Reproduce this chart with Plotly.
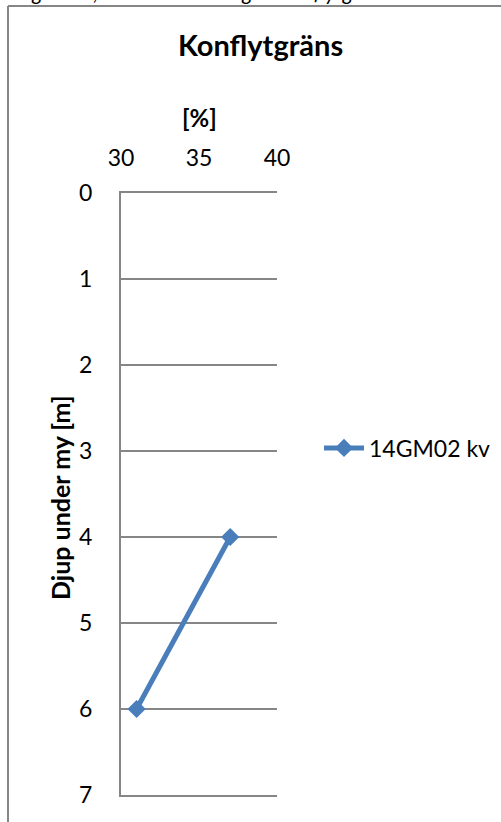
import plotly.graph_objects as go

percent = [37, 31]
depth = [4, 6]
series_name = "14GM02 kv"
x_ticks = [30, 35, 40]
y_ticks = [0, 1, 2, 3, 4, 5, 6, 7]

W, H = 501, 822
L, R, T, B = 121, 277, 193, 795  # plot area pixels

def px(x):
    return (x - L) / (R - L)

def py(y):
    return (B - y) / (B - T)

FONT = "Lato, 'Open Sans', sans-serif"
BLUE = "#4A7EBB"
GRID = "#868686"

fig = go.Figure()
fig.add_trace(go.Scatter(
    x=percent, y=depth, mode="lines+markers", name=series_name,
    line=dict(color=BLUE, width=5),
    marker=dict(symbol="diamond", size=14, color=BLUE),
    cliponaxis=False,
))

fig.update_layout(
    width=W, height=H,
    margin=dict(l=L, r=W - R, t=T, b=H - B, pad=0, autoexpand=False),
    paper_bgcolor="white", plot_bgcolor="white",
    font=dict(family=FONT, color="#000000", size=23),
    showlegend=True,
    legend=dict(xref="container", yref="container", x=319 / W, y=1 - 448 / H,
                xanchor="left", yanchor="middle",
                font=dict(size=23, family=FONT), bgcolor="rgba(0,0,0,0)",
                itemwidth=40),
    xaxis=dict(side="top", range=[30, 40], tickvals=x_ticks,
               showgrid=False, zeroline=False,
               showline=True, mirror=True, linecolor=GRID, linewidth=2,
               ticks="", ticklabelstandoff=16,
               tickfont=dict(size=23, family=FONT)),
    yaxis=dict(range=[7, 0], tickvals=y_ticks, showgrid=True,
               gridcolor=GRID, gridwidth=2, zeroline=False,
               showline=True, linecolor=GRID, linewidth=2, ticks="",
               ticklabelstandoff=22,
               tickfont=dict(size=23, family=FONT)),
)

annotations = [
    dict(text="<b>Konflytgräns</b>", x=px(260), y=py(45), xref="paper", yref="paper",
         showarrow=False, font=dict(size=29, family=FONT), xanchor="center", yanchor="middle"),
    dict(text="<b>[%]</b>", x=px(199), y=py(118), xref="paper", yref="paper",
         showarrow=False, font=dict(size=24, family=FONT), xanchor="center", yanchor="middle"),
    dict(text="<b>Djup under my [m]</b>", x=px(60), y=py(498), xref="paper", yref="paper",
         showarrow=False, textangle=-90, font=dict(size=25, family=FONT),
         xanchor="center", yanchor="middle"),
    dict(text="<i>Diagram 1, Sammanställning av konflytgräns</i>", x=px(0), y=py(6),
         xref="paper", yref="paper", showarrow=False, font=dict(size=21, family=FONT),
         xanchor="left", yanchor="bottom"),
]
fig.update_layout(annotations=annotations)

shapes = [
    dict(type="line", xref="paper", yref="paper", x0=px(8), x1=px(8), y0=py(6), y1=py(830),
         line=dict(color=GRID, width=2)),
    dict(type="line", xref="paper", yref="paper", x0=px(8), x1=px(510), y0=py(6), y1=py(6),
         line=dict(color=GRID, width=2)),
]
fig.update_layout(shapes=shapes)

fig.write_html("out.html")
